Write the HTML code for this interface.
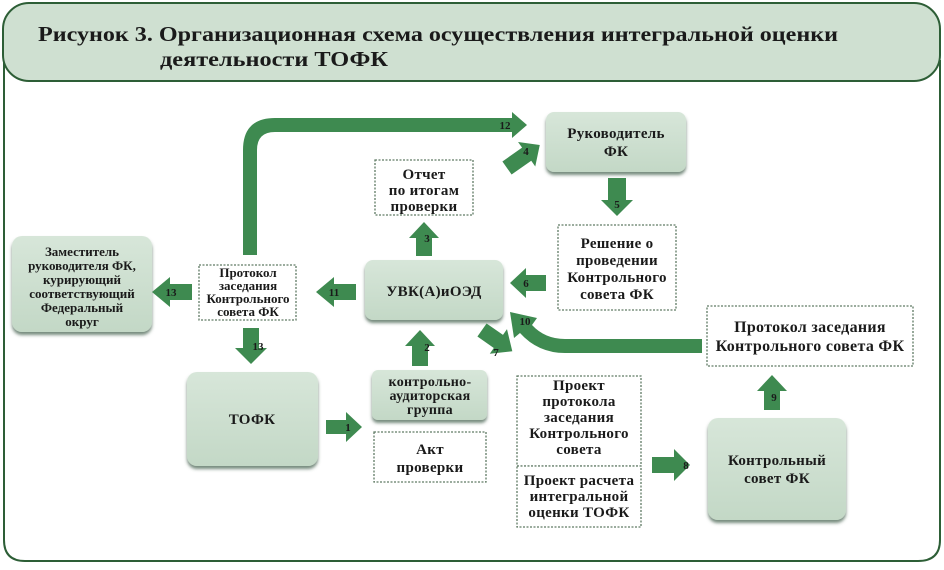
<!DOCTYPE html>
<html><head><meta charset="utf-8"><style>
body{margin:0;background:#fff;}
svg text{font-family:"Liberation Serif",serif;font-weight:bold;fill:#1a1a1a;}
.n{font-family:"Liberation Sans",sans-serif;font-size:11px;fill:#123d1c;}
</style></head><body>
<svg width="944" height="565" viewBox="0 0 944 565" xmlns="http://www.w3.org/2000/svg">
<defs>
<linearGradient id="g" x1="0" y1="0" x2="0" y2="1"><stop offset="0" stop-color="#d7e6d9"/><stop offset="1" stop-color="#c3d8c6"/></linearGradient>
<filter id="sh" x="-10%" y="-10%" width="120%" height="130%"><feDropShadow dx="0" dy="3" stdDeviation="1.5" flood-color="#3d5a44" flood-opacity="0.7"/></filter>
</defs>
<path d="M4,60 L4,540 Q4,561 25,561 L918,561 Q940,561 940,540 L940,60" fill="#fff" stroke="#2d5e36" stroke-width="2"/>
<rect x="3" y="3" width="937" height="78" rx="26" fill="#cfe0d1" stroke="#2d5e36" stroke-width="2"/>
<text x="38" y="41" font-size="21" textLength="800" lengthAdjust="spacingAndGlyphs">Рисунок 3.  Организационная схема осуществления интегральной оценки</text>
<text x="160" y="66" font-size="21" textLength="228" lengthAdjust="spacingAndGlyphs">деятельности ТОФК</text>

<g filter="url(#sh)" fill="url(#g)">
<rect x="546" y="112" width="140" height="60" rx="8"/>
<rect x="365" y="260" width="138" height="60" rx="8"/>
<rect x="12" y="236" width="140" height="96" rx="10"/>
<rect x="187" y="372" width="131" height="94" rx="10"/>
<rect x="372" y="370" width="115" height="50" rx="6"/>
<rect x="708" y="418" width="138" height="102" rx="10"/>
</g>
<g fill="#fff" stroke="#5f7a64" stroke-width="1.3" stroke-dasharray="2,1.5">
<rect x="375" y="160" width="98" height="55"/>
<rect x="558" y="225" width="118" height="85"/>
<rect x="199" y="265" width="97" height="55"/>
<rect x="374" y="432" width="112" height="50"/>
<rect x="517" y="376" width="124" height="90"/>
<rect x="517" y="466" width="124" height="61"/>
<rect x="707" y="306" width="206" height="60"/>
</g>

<g font-size="15" text-anchor="middle" letter-spacing="0.3">
<text x="616" y="138">Руководитель</text><text x="616" y="156">ФК</text>
<text x="424" y="179">Отчет</text><text x="424" y="195">по итогам</text><text x="424" y="211">проверки</text>
<text x="617" y="248">Решение о</text><text x="617" y="265">проведении</text><text x="617" y="282">Контрольного</text><text x="617" y="299">совета ФК</text>
<text x="434" y="296">УВК(А)иОЭД</text>
<text x="248" y="277" font-size="13" letter-spacing="0">Протокол</text><text x="248" y="290" font-size="13" letter-spacing="0">заседания</text><text x="248" y="303" font-size="13" letter-spacing="0">Контрольного</text><text x="248" y="316" font-size="13" letter-spacing="0">совета ФК</text>
<text x="82" y="256" font-size="13" letter-spacing="0">Заместитель</text><text x="82" y="270" font-size="13" letter-spacing="0">руководителя ФК,</text><text x="82" y="284" font-size="13" letter-spacing="0">курирующий</text><text x="82" y="298" font-size="13" letter-spacing="0">соответствующий</text><text x="82" y="312" font-size="13" letter-spacing="0">Федеральный</text><text x="82" y="326" font-size="13" letter-spacing="0">округ</text>
<text x="252" y="424">ТОФК</text>
<text x="430" y="386" font-size="14">контрольно-</text><text x="430" y="400" font-size="14">аудиторская</text><text x="430" y="414" font-size="14">группа</text>
<text x="430" y="454">Акт</text><text x="430" y="472">проверки</text>
<text x="579" y="390">Проект</text><text x="579" y="406">протокола</text><text x="579" y="422">заседания</text><text x="579" y="438">Контрольного</text><text x="579" y="454">совета</text>
<text x="579" y="485">Проект расчета</text><text x="579" y="501">интегральной</text><text x="579" y="517">оценки ТОФК</text>
<text x="777" y="465">Контрольный</text><text x="777" y="483">совет ФК</text>
<text x="810" y="332" font-size="16">Протокол заседания</text><text x="810" y="351" font-size="16">Контрольного совета ФК</text>
</g>

<g fill="#3e8a50">
<path d="M243,255 L243,150 Q243,118 275,118 L512,118 L512,112 L527,125 L512,138 L512,132 L275,132 Q257,132 257,150 L257,255 Z"/>
<path d="M702,339 L565,339 Q545,339 532,325 L537,318 L510,312 L514,338 L520,333 Q538,353 565,353 L702,353 Z"/>
<g transform="translate(326,427)"><polygon points="0,-7 20,-7 20,-15 36,0 20,15 20,7 0,7"/></g>
<g transform="translate(652,465)"><polygon points="0,-8 22,-8 22,-16 38,0 22,16 22,8 0,8"/></g>
<g transform="translate(546,283) rotate(180)"><polygon points="0,-8 20,-8 20,-15 36,0 20,15 20,8 0,8"/></g>
<g transform="translate(356,292) rotate(180)"><polygon points="0,-8 22,-8 22,-15 40,0 22,15 22,8 0,8"/></g>
<g transform="translate(192,292) rotate(180)"><polygon points="0,-8 22,-8 22,-15 40,0 22,15 22,8 0,8"/></g>
<g transform="translate(251,328) rotate(90)"><polygon points="0,-8 20,-8 20,-16 36,0 20,16 20,8 0,8"/></g>
<g transform="translate(420,366) rotate(-90)"><polygon points="0,-8 20,-8 20,-15 36,0 20,15 20,8 0,8"/></g>
<g transform="translate(424,256) rotate(-90)"><polygon points="0,-8 18,-8 18,-15 34,0 18,15 18,8 0,8"/></g>
<g transform="translate(617,178) rotate(90)"><polygon points="0,-9 22,-9 22,-16 38,0 22,16 22,9 0,9"/></g>
<g transform="translate(772,410) rotate(-90)"><polygon points="0,-8 19,-8 19,-15 35,0 19,15 19,8 0,8"/></g>
<g transform="translate(507,168) rotate(-35)"><polygon points="0,-8 24,-8 24,-15 40,0 24,15 24,8 0,8"/></g>
<g transform="translate(482,330) rotate(35)"><polygon points="0,-8 20,-8 20,-15 37,0 20,15 20,8 0,8"/></g>
</g>
<g class="n" text-anchor="middle">
<text x="505" y="129">12</text><text x="526" y="155">4</text><text x="617" y="208">5</text>
<text x="427" y="242">3</text><text x="526" y="287">6</text><text x="334" y="296">11</text>
<text x="171" y="296">13</text><text x="258" y="350">13</text><text x="427" y="351">2</text>
<text x="496" y="356">7</text><text x="525" y="325">10</text><text x="348" y="431">1</text>
<text x="686" y="469">8</text><text x="774" y="401">9</text>
</g>
</svg>
</body></html>
